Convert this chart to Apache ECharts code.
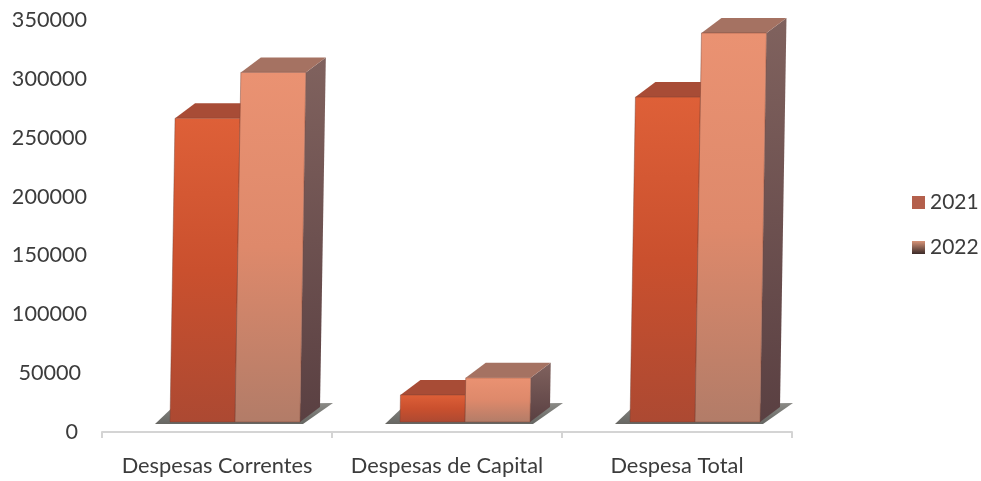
<!DOCTYPE html>
<html><head><meta charset="utf-8">
<style>html,body{margin:0;padding:0;background:#fff}#c{width:981px;height:481px}</style>
<script src="https://cdn.jsdelivr.net/npm/echarts@6/dist/echarts.min.js"></script>
</head><body><div id="c"></div>
<script>
const categories = ['Despesas Correntes', 'Despesas de Capital', 'Despesa Total'];
const years = ['2021', '2022'];
const values2021 = [266500, 31500, 284500];
const values2022 = [305500, 46000, 339000];
const yTicks = [0, 50000, 100000, 150000, 200000, 250000, 300000, 350000];

const chart = echarts.init(document.getElementById('c'));
const BAR_W = 65, DX = 20, DY = 15, FLOOR = 10, SHIFT = 18, LEAN = 5 / 300;
const grad = (a, b) => new echarts.graphic.LinearGradient(0, 0, 0, 1, [{offset: 0, color: a}, {offset: 1, color: b}]);
const palette = [
  {front: ['#DE6038', '#CA502E', '#AC4932'], top: '#A84C36', side: ['#9A4A38', '#7A3C30']},
  {front: ['#EA9272', '#DE896B', '#B27C68'], top: '#A57262', side: ['#80625E', '#5A4042']}
];
function poly(points, fill, stroke) {
  return {type: 'polygon', shape: {points}, style: {fill, stroke: stroke || null, lineWidth: stroke ? 1 : 0}};
}
function makeRender(si) {
  return function (params, api) {
    const cat = api.value(0), val = api.value(1);
    const p0 = api.coord([cat, 0]), pv = api.coord([cat, val]);
    const baseY = p0[1] - FLOOR, topY = pv[1];
    const lean = (baseY - topY) * LEAN;
    const xb = p0[0] + SHIFT + (si === 0 ? -BAR_W : 0), xt = xb + lean;
    const c = palette[si], kids = [];
    if (si === 0) {
      kids.push(poly([[xb - 15, baseY + 2], [xb + 5, baseY - 17], [xb + 2 * BAR_W + 33, baseY - 19], [xb + 2 * BAR_W + 3, baseY + 2]],
        grad('#8a8a86', '#666662')));
    }
    kids.push(poly([[xt + BAR_W, topY], [xt + BAR_W + DX, topY - DY], [xb + BAR_W + DX, baseY - DY], [xb + BAR_W, baseY]], grad(c.side[0], c.side[1])));
    kids.push(poly([[xt, topY], [xt + DX, topY - DY], [xt + BAR_W + DX, topY - DY], [xt + BAR_W, topY]], c.top));
    kids.push(poly([[xt, topY], [xt + BAR_W, topY], [xb + BAR_W, baseY], [xb, baseY]],
      new echarts.graphic.LinearGradient(0, 0, 0, 1, [{offset: 0, color: c.front[0]}, {offset: .5, color: c.front[1]}, {offset: 1, color: c.front[2]}]),
      'rgba(120,65,50,0.45)'));
    return {type: 'group', children: kids};
  };
}
chart.setOption({
  animation: false,
  backgroundColor: '#fff',
  textStyle: {fontFamily: 'Lato'},
  grid: {left: 102, right: 189, top: 20, bottom: 49},
  legend: {
    orient: 'vertical', left: 907, top: 187, itemWidth: 13, itemHeight: 13, itemGap: 24,
    textStyle: {fontSize: 21, color: '#3c3c3c', fontFamily: 'Lato'},
    data: [
      {name: years[0], icon: 'rect', itemStyle: {color: '#B4604C'}},
      {name: years[1], icon: 'rect', itemStyle: {color: grad('#D89478', '#3A2A28')}}
    ]
  },
  xAxis: {
    type: 'category', data: categories,
    axisLine: {lineStyle: {color: '#d4d4d4', width: 2}},
    axisTick: {show: true, length: 6, lineStyle: {color: '#d4d4d4', width: 2}, alignWithLabel: false},
    axisLabel: {fontSize: 21.8, color: '#3c3c3c', margin: 23, interval: 0, fontFamily: 'Lato'}
  },
  yAxis: {
    type: 'value', min: yTicks[0], max: yTicks[yTicks.length - 1], interval: yTicks[1] - yTicks[0],
    splitLine: {show: false}, axisLine: {show: false}, axisTick: {show: false},
    axisLabel: {
      fontSize: 21.6, color: '#3c3c3c', margin: 15, fontFamily: 'Lato',
      formatter: v => v === 0 ? '{z|0}' : v === 50000 ? '{f|50000}' : String(v),
      rich: {
        z: {fontSize: 21.6, color: '#3c3c3c', padding: [0, 9, 0, 0], fontFamily: 'Lato'},
        f: {fontSize: 21.6, color: '#3c3c3c', padding: [0, 6, 0, 0], fontFamily: 'Lato'}
      }
    }
  },
  series: [
    {name: years[0], type: 'custom', renderItem: makeRender(0), encode: {x: 0, y: 1}, clip: false,
      itemStyle: {color: '#B4604C'}, data: categories.map((c, i) => [i, values2021[i]])},
    {name: years[1], type: 'custom', renderItem: makeRender(1), encode: {x: 0, y: 1}, clip: false,
      itemStyle: {color: '#8A5A48'}, data: categories.map((c, i) => [i, values2022[i]])}
  ]
});
</script></body></html>
